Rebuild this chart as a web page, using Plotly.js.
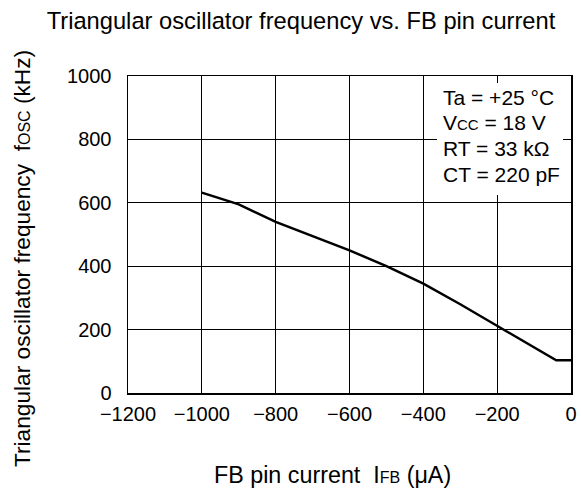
<!DOCTYPE html>
<html>
<head>
<meta charset="utf-8">
<script src="https://cdn.plot.ly/plotly-3.0.1.min.js"></script>
<style>html,body{margin:0;padding:0;background:#fff;}#chart{width:581px;height:491px;}</style>
</head>
<body>
<div id="chart"></div>
<script>
var currentUA = [-1000, -900, -800, -700, -600, -500, -400, -300, -200, -100, -40, 0];
var freqKHz   = [632, 595, 540, 495, 450, 400, 345, 280, 212, 145, 103, 103];
var xTicks = [-1200, -1000, -800, -600, -400, -200, 0];
var yTicks = [0, 200, 400, 600, 800, 1000];
var conditions = ['Ta = +25 °C', 'V<span style="font-size:15px">CC</span> = 18 V', 'RT = 33 kΩ', 'CT = 220 pF'];
var chartTitle = 'Triangular oscillator frequency vs. FB pin current';
var xTitle = 'FB pin current  I<span style="font-size:16px">FB</span> (μA)';
var yTitle = 'Triangular oscillator frequency  f<span style="font-size:16px">OSC</span> (kHz)';

var FONT = 'Liberation Sans, Arial, Helvetica, sans-serif';

var trace = {
  x: currentUA, y: freqKHz, type: 'scatter', mode: 'lines',
  line: {color: '#000', width: 2.5}, hoverinfo: 'skip'
};

// plot area in px: left 128, right 571, top 76, bottom 393
function px(xp) { return (xp - 128) / 443; }
function py(yp) { return (393 - yp) / 317; }

var annotations = [
  {xref: 'paper', yref: 'paper', x: px(332), y: py(475), xanchor: 'center', yanchor: 'middle',
   showarrow: false, text: xTitle, font: {size: 23.3}},
  {xref: 'paper', yref: 'paper', x: px(22), y: py(259), xanchor: 'center', yanchor: 'middle',
   showarrow: false, text: yTitle, textangle: -90, font: {size: 22.7}}
];
var lineY = [97, 122.5, 148.5, 174.5];
conditions.forEach(function (t, i) {
  annotations.push({xref: 'paper', yref: 'paper', x: px(441), y: py(lineY[i]), xanchor: 'left', yanchor: 'middle',
    align: 'left', showarrow: false, text: t, font: {size: 21}});
});

var layout = {
  width: 581, height: 491,
  margin: {l: 128, r: 10, t: 76, b: 98},
  paper_bgcolor: '#fff', plot_bgcolor: '#fff',
  font: {family: FONT, size: 20, color: '#000'},
  showlegend: false,
  title: {text: chartTitle, x: 301 / 581, xanchor: 'center', xref: 'container',
          y: 1 - 21 / 491, yanchor: 'middle', yref: 'container', font: {size: 23.7}},
  xaxis: {
    range: [-1200, 0], tickvals: xTicks, ticktext: xTicks.map(function(v){return v < 0 ? '\u2212' + Math.abs(v) : String(v);}),
    showgrid: true, gridcolor: '#000', gridwidth: 1, zeroline: false,
    showline: true, linecolor: '#000', linewidth: 1.5, mirror: true,
    ticks: '', ticklabelstandoff: 2, tickfont: {size: 20}
  },
  yaxis: {
    range: [0, 1000], tickvals: yTicks, ticktext: yTicks.map(String),
    showgrid: true, gridcolor: '#000', gridwidth: 1, zeroline: false,
    showline: true, linecolor: '#000', linewidth: 1.5, mirror: true,
    ticks: '', ticklabelstandoff: 11, tickfont: {size: 20}
  },
  shapes: [{type: 'rect', xref: 'paper', yref: 'paper', layer: 'above',
            x0: px(437), x1: px(563), y0: py(195), y1: py(83),
            fillcolor: '#fff', line: {width: 0}}],
  annotations: annotations
};

Plotly.newPlot('chart', [trace], layout, {displayModeBar: false, staticPlot: true});
</script>
</body>
</html>
